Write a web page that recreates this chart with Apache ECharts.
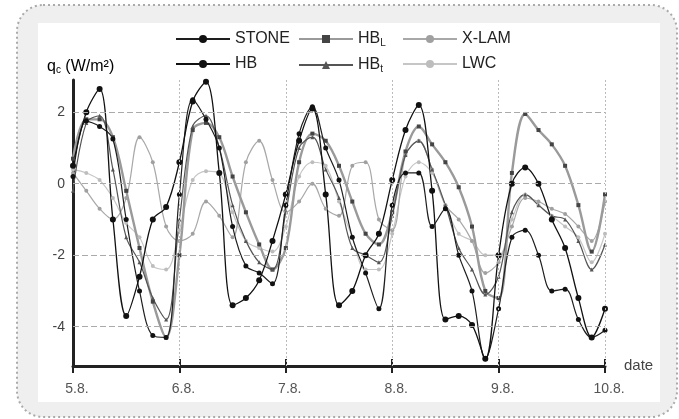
<!DOCTYPE html>
<html>
<head>
<meta charset="utf-8">
<script src="https://cdn.jsdelivr.net/npm/echarts@6/dist/echarts.min.js"></script>
<style>
  html, body { margin: 0; padding: 0; background: #ffffff; }
  #chart { width: 679px; height: 419px; }
</style>
</head>
<body>
<div id="chart"></div>
<script>
// Date tick labels (one per day, August)
const dateLabels = ['5.8.', '6.8.', '7.8.', '8.8.', '9.8.', '10.8.'];
// Labelled heat-flux values on the y axis
const fluxTicks = [-4, -2, 0, 2];
// Samples are taken every 3 hours
const stepHours = 3;

// Convective heat flux q_c (W/m²), 3-hourly from 5.8. 00:00 to 10.8. 00:00
const stone = [0.2, 1.75, 1.6, 1.25, -1.0, -3.0, -4.25, -4.3,
  -0.3, 2.35, 1.8, 1.0, -1.2, -2.3, -2.5, -2.8,
  -0.6, 1.4, 2.15, 1.0, 0.1, -1.5, -2.5, -3.5,
  -0.6, 0.3, 0.3, -1.2, -0.7, -2.0, -3.0, -4.9,
  -3.5, -1.5, -1.3, -2.0, -3.0, -2.95, -3.8, -4.3, -4.1];
const hb = [0.5, 2.0, 2.65, -1.0, -3.7, -2.6, -1.0, -0.65,
  0.6, 2.3, 2.85, 0.3, -3.4, -3.2, -2.7, -1.6,
  -0.3, 1.2, 2.1, -0.3, -3.4, -3.0, -2.0, -1.4,
  0.1, 1.5, 2.2, -0.2, -3.8, -3.7, -3.95, -4.9,
  -2.0, 0.0, 0.45, 0.0, -1.0, -1.8, -3.2, -4.3, -3.5];
const hbL = [0.7, 1.8, 1.8, 1.3, -0.2, -1.8, -3.3, -4.3,
  -2.0, 1.5, 1.7, 1.3, 0.2, -0.8, -1.7, -2.4,
  -1.8, 0.6, 1.4, 1.2, 0.5, -0.5, -1.4, -1.7,
  -0.8, 0.9, 1.6, 1.1, 0.6, -0.1, -1.2, -3.0,
  -3.2, 0.3, 1.95, 1.5, 1.1, 0.5, -0.6, -1.9, -0.3];
const hbT = [-0.2, 1.7, 1.9, 0.4, -1.5, -2.2, -3.2, -3.8,
  -1.0, 1.6, 1.9, 1.0, -0.6, -1.6, -2.2, -2.4,
  -0.8, 1.0, 1.3, 0.4, -0.4, -1.8, -2.0, -2.2,
  -0.9, 0.8, 1.2, 0.4, -0.6, -1.8, -2.4, -3.1,
  -2.6, -0.8, -0.3, -0.6, -0.9, -1.0, -1.6, -2.4, -1.7];
const xlam = [0.3, -0.2, -0.7, -1.0, -0.4, 1.3, 0.6, -1.2,
  -1.6, -1.4, -0.5, -0.9, -1.5, 0.6, 1.2, 0.1,
  -0.8, -0.5, 0.0, -0.7, -0.9, 0.5, 0.6, -1.0,
  -1.3, 0.8, 1.2, 0.4, -0.6, -1.0, -1.6, -2.5,
  -2.2, -1.2, -0.4, -0.5, -0.7, -0.85, -1.2, -1.6, -0.5];
const lwc = [0.4, 0.3, 0.1, -0.4, -1.1, -1.5, -2.3, -2.4,
  -1.3, 0.1, 0.35, 0.3, -0.8, -1.6, -1.8, -1.9,
  -1.2, 0.2, 0.6, 0.5, -0.5, -1.5, -2.4, -2.4,
  -1.4, 0.2, 0.6, 0.3, -0.6, -1.4, -1.6, -2.0,
  -2.0, -1.0, -0.3, -0.6, -0.9, -1.2, -1.5, -2.2, -1.4];

const toPoints = vals => vals.map((v, i) => [i * stepHours / 24, v]);

const FONT = 'Liberation Sans, Arial, sans-serif';

function lineSeries(name, vals, color, width, symbol, symbolSize, symbolColor) {
  return {
    name: name,
    type: 'line',
    data: toPoints(vals),
    smooth: 0.35,
    symbol: symbol,
    symbolSize: symbolSize,
    showAllSymbol: true,
    lineStyle: { color: color, width: width },
    itemStyle: { color: symbolColor, borderWidth: 0 },
    emphasis: { disabled: true },
    z: 3
  };
}

const gridLines = {
  silent: true,
  symbol: ['none', 'none'],
  label: { show: false },
  animation: false,
  data: fluxTicks.map(v => ({ yAxis: v, lineStyle: { color: '#aaaaaa', type: [6, 3], width: 1 } }))
    .concat([1, 2, 3, 4, 5].map(d => ({ xAxis: d, lineStyle: { color: '#bbbbbb', type: [2, 2], width: 1 } })))
};

const subRich = {
  n: { fontFamily: FONT, fontSize: 16, color: '#222' },
  s: { fontFamily: FONT, fontSize: 10, color: '#222', padding: [8, 0, 0, 0] }
};
const legendFormatter = name => {
  if (name === 'HBL') return '{n|HB}{s|L}';
  if (name === 'HBt') return '{n|HB}{s|t}';
  return '{n|' + name + '}';
};
function legendColumn(left, names) {
  return {
    left: left, top: 31, orient: 'vertical', padding: 0,
    itemWidth: 54, itemHeight: 10, itemGap: 9,
    data: names, formatter: legendFormatter,
    textStyle: { rich: subRich },
    selectedMode: false
  };
}

const chart = echarts.init(document.getElementById('chart'), null, { renderer: 'canvas' });
chart.setOption({
  animation: false,
  backgroundColor: 'transparent',
  graphic: [
    { type: 'rect', z: -10, shape: { x: 17, y: 5, width: 660, height: 412, r: 26 },
      style: { fill: '#efefef', stroke: '#aaaaaa', lineWidth: 2, lineDash: [2, 3] } },
    { type: 'rect', z: -9, shape: { x: 38, y: 23, width: 622, height: 379 },
      style: { fill: '#ffffff' } },
    { type: 'text', left: 47, top: 59,
      style: { text: '{q|q}{c|c}{u| (W/m²)}', rich: {
        q: { fontFamily: FONT, fontSize: 16, color: '#333' },
        c: { fontFamily: FONT, fontSize: 10, color: '#333', padding: [7, 0, 0, 0] },
        u: { fontFamily: FONT, fontSize: 16, color: '#333' } } } }
  ],
  grid: { left: 73, right: 74, top: 80, bottom: 53, containLabel: false },
  legend: [
    legendColumn(175, ['STONE', 'HB']),
    legendColumn(298, ['HBL', 'HBt']),
    legendColumn(402, ['X-LAM', 'LWC'])
  ],
  xAxis: [{
    type: 'value', min: 0, max: 5, interval: 1,
    name: 'date', nameLocation: 'end', nameGap: 19,
    nameTextStyle: { fontFamily: FONT, fontSize: 15, color: '#444', verticalAlign: 'middle' },
    axisLine: { onZero: false, lineStyle: { color: '#222', width: 3 } },
    axisTick: { show: true, length: 7, lineStyle: { color: '#222', width: 2 } },
    axisLabel: { fontFamily: FONT, fontSize: 14, color: '#555', margin: 16,
      padding: [0, 0, 0, 8],
      formatter: v => dateLabels[Math.round(v)] },
    splitLine: { show: false }
  }, {
    type: 'value', min: 0, max: 5, interval: 1, position: 'bottom', offset: 0,
    axisLine: { show: false, onZero: false },
    axisTick: { show: true, inside: true, length: 7, lineStyle: { color: '#222', width: 2 } },
    axisLabel: { show: false },
    splitLine: { show: false }
  }],
  yAxis: {
    type: 'value', min: -5.1, max: 2.9,
    axisLine: { show: true, onZero: false, lineStyle: { color: '#222', width: 3 } },
    axisTick: { show: false },
    axisLabel: { fontFamily: FONT, fontSize: 14, color: '#444', margin: 8,
      customValues: fluxTicks },
    splitLine: { show: false }
  },
  series: [
    Object.assign(lineSeries('LWC', lwc, '#c6c6c6', 1.2, 'circle', 4, '#bdbdbd'), { markLine: gridLines }),
    lineSeries('X-LAM', xlam, '#a8a8a8', 1.2, 'circle', 4, '#a0a0a0'),
    lineSeries('HBL', hbL, '#9a9a9a', 2.4, 'rect', 4, '#444444'),
    lineSeries('HBt', hbT, '#555555', 1.2, 'triangle', 4, '#555555'),
    lineSeries('STONE', stone, '#1e1e1e', 1.2, 'circle', 5, '#111111'),
    lineSeries('HB', hb, '#111111', 1.3, 'circle', 6, '#111111')
  ]
});
</script>
</body>
</html>
